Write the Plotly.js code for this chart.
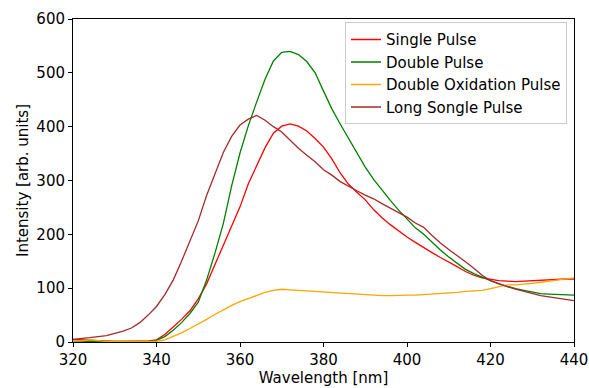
<!DOCTYPE html>
<html>
<head>
<meta charset="utf-8">
<script src="https://cdn.plot.ly/plotly-3.0.1.min.js"></script>
<style>html,body{margin:0;padding:0;background:#fff;}#chart{width:589px;height:388px;}</style>
</head>
<body>
<div id="chart"></div>
<script>
const wavelength = [320,322,324,326,328,330,332,334,336,338,340,342,344,346,348,350,352,354,356,358,360,362,364,366,368,370,372,374,376,378,380,382,384,386,388,390,392,394,396,398,400,402,404,406,408,410,412,414,416,418,420,422,424,426,428,430,432,434,436,438,440];

const singlePulse = [5,4,3,2,1,1,1,1,1,2,4,14,28,42,58,80,108,143,180,215,251,294,326,361,388,401,405,401,392,378,362,340,314,293,278,264,246,231,218,206,195,185,175,166,157,149,140,131,124,119,116,114,113,112,113,114,115,115,116,117,117];

const doublePulse = [2,1,1,1,1,0,1,0,1,1,3,10,22,36,53,74,115,165,220,290,351,402,446,488,522,538,540,534,521,500,466,433,405,378,350,325,302,282,263,245,228,212,200,185,171,158,146,135,127,120,114,108,103,99,96,93,90,89,88,87,87];

const doubleOxidationPulse = [3,2,4,2,1,1,1,0,0,0,1,4,10,17,25,33,42,51,60,68,75,81,87,92,96,98,97,96,94,93,92,91,90,90,89,87,86,86,86,87,87,87,88,88,90,91,92,94,95,96,99,103,106,106,107,109,111,113,114,116,119];

const longSonglePulse = [5,6,8,10,12,16,20,26,36,50,66,88,115,150,188,225,272,312,352,382,403,414,421,412,400,390,374,360,347,335,320,310,298,289,281,273,266,257,249,240,232,221,213,198,184,172,161,149,137,124,114,108,103,98,94,89,86,84,82,79,77];

const seriesNames = ['Single Pulse','Double Pulse','Double Oxidation Pulse','Long Songle Pulse'];
const seriesValues = [singlePulse, doublePulse, doubleOxidationPulse, longSonglePulse];
const seriesColors = ['#ff0000','#008000','#ffa500','#a52a2a'];

const xTicks = [320,340,360,380,400,420,440];
const yTicks = [0,100,200,300,400,500,600];

const traces = seriesNames.map((n,i)=>({
  x: wavelength, y: seriesValues[i], name: n, type:'scatter', mode:'lines',
  line:{color:seriesColors[i], width:1.3}
}));

const font = {family:'"DejaVu Sans", sans-serif', size:15, color:'#000'};
const axisCommon = {
  showgrid:false, zeroline:false, showline:true, linecolor:'#000', linewidth:1, mirror:true,
  ticks:'outside', ticklen:4, tickwidth:1, tickcolor:'#000', tickfont:font
};

const layout = {
  width:589, height:388,
  margin:{l:73, r:15, t:19, b:46},
  paper_bgcolor:'#fff', plot_bgcolor:'#fff',
  font: font,
  showlegend:true,
  legend:{x:0.986, y:0.99, xanchor:'right', yanchor:'top', bgcolor:'rgba(255,255,255,0.8)', bordercolor:'#cccccc', borderwidth:1, font:font, tracegroupgap:0},
  xaxis: Object.assign({}, axisCommon, {range:[320,440], tickvals:xTicks, ticktext:xTicks.map(String), title:{text:'Wavelength [nm]', font:font, standoff:2}}),
  yaxis: Object.assign({}, axisCommon, {range:[0,600], tickvals:yTicks, ticktext:yTicks.map(String), title:{text:'Intensity [arb. units]', font:font, standoff:4}})
};

Plotly.newPlot('chart', traces, layout, {displayModeBar:false, staticPlot:true});
</script>
</body>
</html>
